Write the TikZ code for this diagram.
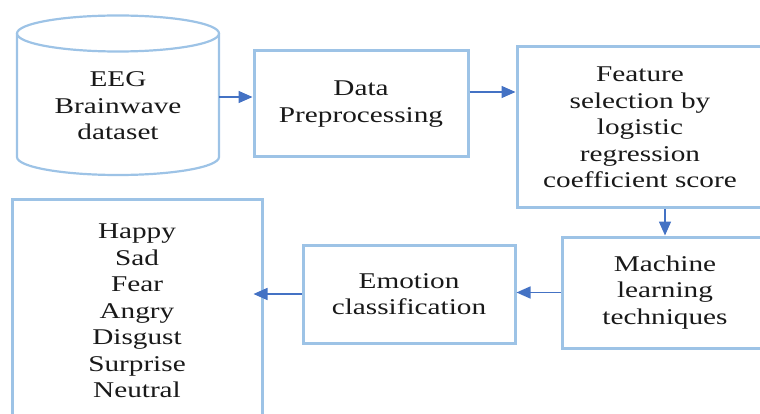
\documentclass[tikz,border=0pt]{standalone}
\usepackage{fontspec}
\setmainfont{Liberation Serif}[FakeStretch=1.3]
\usetikzlibrary{arrows.meta}
\definecolor{boxblue}{HTML}{9DC3E6}
\definecolor{arrblue}{HTML}{4472C4}
\begin{document}
\begin{tikzpicture}[x=1pt,y=-1pt,
  txt/.style={align=center, font=\fontsize{22.5}{26.5}\selectfont, inner sep=0pt, text=black!90},
  box/.style={txt, draw=boxblue, line width=3pt},
  arr/.style={draw=arrblue, line width=1.6pt, -{Triangle[length=14pt,width=12pt]}}]
\useasboundingbox (0,0) rectangle (760,414);
\clip (0,0) rectangle (760,414);
% cylinder
\draw[boxblue, line width=2.2pt] (17,33.5) -- (17,157) arc[start angle=180, end angle=360, x radius=101, y radius=-18] -- (219,33.5);
\draw[boxblue, line width=2.2pt] (118,33.5) ellipse [x radius=101, y radius=18];
\node[txt, minimum width=202pt, minimum height=139pt] (eeg) at (118,106) {EEG\\Brainwave\\dataset};
% boxes
\node[box, minimum width=214pt, minimum height=106pt] (dp) at (361,104) {Data\\Preprocessing};
\node[box, minimum width=246pt, minimum height=161pt] (feat) at (640,127.5) {Feature\\selection by\\logistic\\regression\\coefficient score};
\node[box, minimum width=206pt, minimum height=111pt] (mach) at (665,292.5) {Machine\\learning\\techniques};
\node[box, minimum width=212pt, minimum height=98pt] (emo) at (409,294) {Emotion\\classification};
\node[box, minimum width=250pt, minimum height=222pt] (hap) at (137,311) {Happy\\Sad\\Fear\\Angry\\Disgust\\Surprise\\Neutral};
% connectors
\coordinate (r1) at (0,97);
\coordinate (r2) at (0,92);
\draw[arr] (eeg.east |- r1) -- (dp.west |- r1);
\draw[arr] (dp.east |- r2) -- (feat.west |- r2);
\draw[arr] (feat.south -| mach.north) -- (mach.north);
\draw[arr] (mach.west) -- (emo.east |- mach.west);
\draw[arr] (emo.west) -- ([xshift=-10pt]hap.east |- emo.west);
\end{tikzpicture}
\end{document}
